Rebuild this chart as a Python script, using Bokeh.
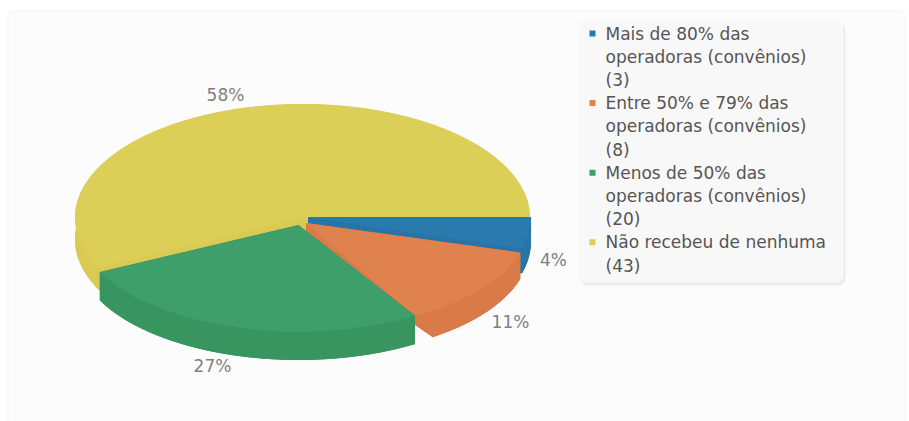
import math
from bokeh.plotting import figure
from bokeh.embed import file_html
from bokeh.resources import INLINE
from bokeh.models import BoxAnnotation
from bokeh.core.properties import value

# ---- data
categories = ["Mais de 80% das operadoras (convênios) (3)",
              "Entre 50% e 79% das operadoras (convênios) (8)",
              "Menos de 50% das operadoras (convênios) (20)",
              "Não recebeu de nenhuma (43)"]
legend_lines = [["Mais de 80% das", "operadoras (convênios)", "(3)"],
                ["Entre 50% e 79% das", "operadoras (convênios)", "(8)"],
                ["Menos de 50% das", "operadoras (convênios)", "(20)"],
                ["Não recebeu de nenhuma", "(43)"]]
counts = [3, 8, 20, 43]
pct_labels = ["4%", "11%", "27%", "58%"]

# ---- styling / geometry (page pixels)
top_colors = ["#2a7aae", "#e0824e", "#3e9f6b", "#dccf58"]
side_colors = ["#2874a6", "#d87b49", "#389560", "#d8ca52"]
centers = [(308, 217), (306, 223), (298, 225), (302, 217)]
radii = [(222, 113), (222, 106), (221, 106), (227, 113)]
depths = [24, 26, 28, 22]
end_trim = [0, -3, 0, 0]
label_pos = [(553, 259), (510, 321), (212, 365), (225, 94)]
WARP = 6.0
W, H = 909, 421

p = figure(width=W, height=H, x_range=(0, W), y_range=(H, 0),
           toolbar_location=None, output_backend="svg", min_border=0)
p.axis.visible = False
p.grid.visible = False
p.outline_line_color = None
p.background_fill_color = "#ffffff"
p.border_fill_color = "#ffffff"

p.add_layout(BoxAnnotation(left=7, right=905, top=10, bottom=430, fill_color="#fcfcfc", fill_alpha=1,
                           line_color="#eeeeee", line_width=2, border_radius=8, level="underlay"))


def warp(deg):
    return deg + WARP * math.sin(math.radians(deg))


def arc(cx, cy, rx, ry, a0, a1, dy=0.0):
    n = max(int(a1 - a0) * 2, 2)
    out = []
    for i in range(n + 1):
        t = math.radians(a0 + (a1 - a0) * i / n)
        out.append((cx + rx * math.cos(t), cy + ry * math.sin(t) + dy))
    return out


total = sum(counts)
starts, acc = [], 0
for c in counts:
    starts.append(acc)
    acc += c

for i in [3, 0, 1, 2]:
    a0 = warp(360 * starts[i] / total)
    a_full = warp(360 * (starts[i] + counts[i]) / total)
    a1 = a_full + end_trim[i]
    cx, cy = centers[i]
    rx, ry = radii[i]
    d = depths[i]
    rim = arc(cx, cy, rx, ry, a0, a1)
    low = arc(cx, cy, rx, ry, a0, a1, d)
    xs_side = [[q[0] for q in [(cx, cy + d)] + low],
               [q[0] for q in rim + low[::-1]],
               [cx, rim[0][0], low[0][0], cx],
               [cx, rim[-1][0], low[-1][0], cx]]
    ys_side = [[q[1] for q in [(cx, cy + d)] + low],
               [q[1] for q in rim + low[::-1]],
               [cy, rim[0][1], low[0][1], cy + d],
               [cy, rim[-1][1], low[-1][1], cy + d]]
    p.patches(xs_side, ys_side, fill_color=side_colors[i], line_color=side_colors[i], line_width=1)
    top = [(cx, cy)] + rim
    if end_trim[i] != 0:
        # the top face runs on under the next slice, whose own start rim closes it
        j = i + 1
        gx, gy = centers[j]
        grx, gry = radii[j]
        t = math.radians(a_full)
        top.append((gx + grx * math.cos(t), gy + gry * math.sin(t)))
    p.patch([q[0] for q in top], [q[1] for q in top],
            fill_color=top_colors[i], line_color=top_colors[i], line_width=0.5)

p.text([q[0] for q in label_pos], [q[1] for q in label_pos], text=pct_labels,
       text_font=value("DejaVu Sans"), text_font_size="17px", text_color="#808080",
       text_align="center", text_baseline="middle")

# ---- legend
p.add_layout(BoxAnnotation(left=580, right=845, top=22, bottom=285, fill_color="#ececec", fill_alpha=1,
                           line_color=None, border_radius=7, level="underlay"))
p.add_layout(BoxAnnotation(left=578, right=843, top=20, bottom=282, fill_color="#f8f8f8", fill_alpha=1,
                           line_color=None, border_radius=7, level="underlay"))
LINE = 23.2
row = 0
tx, ty, sx, sy, sc = [], [], [], [], []
for i, lines in enumerate(legend_lines):
    sx.append(592)
    sy.append(33 + row * LINE)
    sc.append(top_colors[i])
    for ln in lines:
        tx.append(605)
        ty.append(33 + row * LINE)
        row += 1
p.scatter(sx, sy, marker="square", size=6, fill_color=sc, line_color=None)
p.text(tx, ty, text=[ln for ls in legend_lines for ln in ls],
       text_font=value("DejaVu Sans"), text_font_size="17px", text_color="#555555",
       text_align="left", text_baseline="middle")

open("out.html", "w").write(file_html(p, INLINE))
